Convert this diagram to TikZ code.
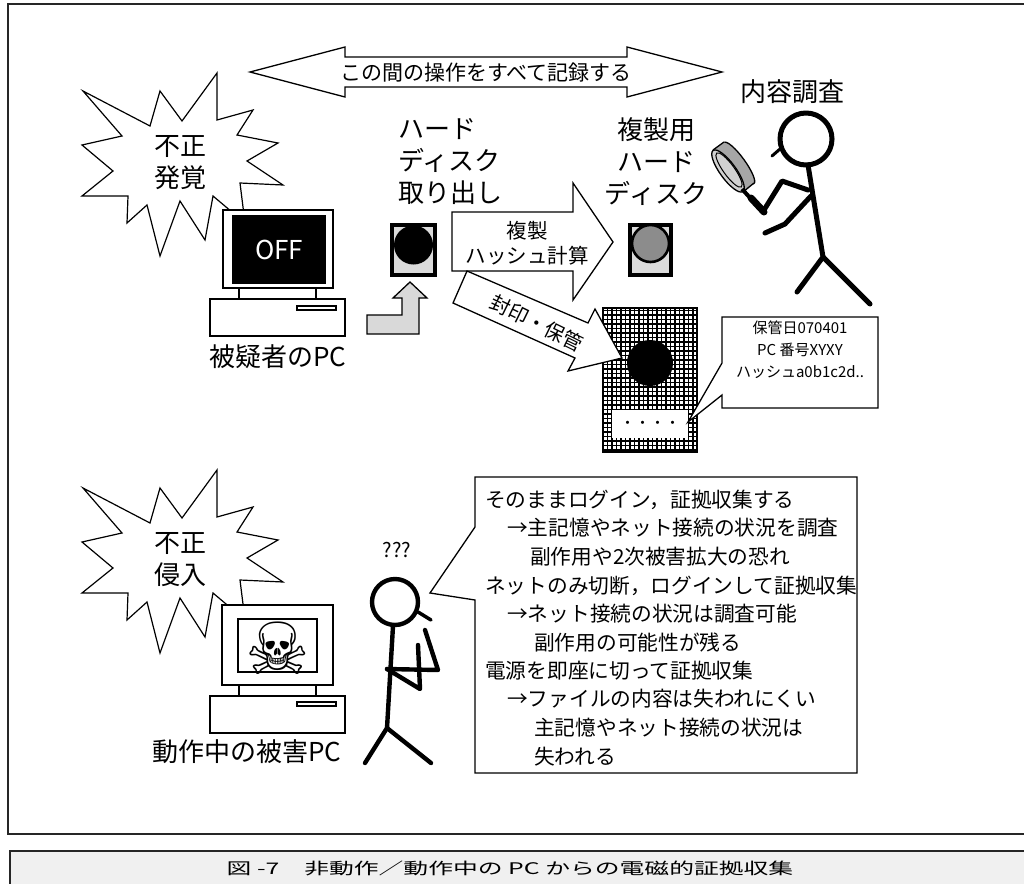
\documentclass[tikz,border=0pt]{standalone}
\usepackage{fontspec}
\setmainfont{Noto Sans CJK JP}
\newfontfamily\symbolfont{DejaVu Sans}
\newcommand\setfs[2]{\fontsize{#1}{#2}\selectfont}
\begin{document}
\begin{tikzpicture}[x=1pt,y=-1pt,
  outl/.style={draw=black,line width=1.3,fill=white,line join=miter},
  frameline/.style={draw=black!85,line width=1.5},
  pcline/.style={draw=black,line width=1.5},
  stick/.style={line width=5,line cap=round,line join=round},
  stickthin/.style={line width=4.4,line cap=round,line join=round},
  lbl/.style={inner sep=0,font=\setfs{26}{32}},
  small/.style={inner sep=0,font=\setfs{15}{22}},
  talk/.style={inner sep=0,anchor=west,font=\setfs{20.7}{28}},
  burst/.style={draw=black,line width=1.2,fill=white,line join=miter}
]
\useasboundingbox (0,0) rectangle (1024,883);

% outer frame and caption bar
\draw[frameline] (8,4) rectangle (1032,834);
\draw[frameline,fill=black!6] (10,851) rectangle (1032,890);
\node[font=\setfs{16}{16},inner sep=0] (cap) at (510,868)
  {\scalebox{1.55}[1]{図 -7　非動作／動作中の PC からの電磁的証拠収集}};

% starbursts
\foreach \cy/\nm in {163/b1,560/b2}{
  \draw[burst,shift={(180,\cy)}] (-97,-72) -- (-30,-37) -- (-20,-72) -- (2,-42)
    -- (37,-90) -- (37,-43) -- (73,-53) -- (57,-28) -- (98,-20) -- (67,-2)
    -- (103,22) -- (60,20) -- (65,60) -- (33,33) -- (25,77) -- (0,38)
    -- (-20,93) -- (-33,42) -- (-53,60) -- (-52,33) -- (-98,33) -- (-67,8)
    -- (-98,-18) -- (-58,-27) -- cycle;
}
\node[lbl,align=center] (fusei1) at (180,163) {不正\\発覚};
\node[lbl,align=center] (fusei2) at (180,560) {不正\\侵入};

% suspect PC (switched off)
\draw[pcline,fill=white] (223,210) rectangle (333,288);
\fill[black] (232,215) rectangle (326,284);
\draw[pcline] (239,288) -- (239,299) (316,288) -- (316,299);
\draw[pcline,fill=white] (210,299) rectangle (345,336);
\draw[line width=1.2] (297,306) rectangle (336,310);
\node[lbl,text=white] (off) at (279,250) {OFF};
\node[lbl] (pc1) at (278,357) {被疑者のPC};

% victim PC (running)
\draw[pcline,fill=white] (222,605) rectangle (333,685);
\draw[pcline] (238,619) rectangle (317,672);
\draw[pcline] (239,685) -- (239,696) (316,685) -- (316,696);
\draw[pcline,fill=white] (210,696) rectangle (345,733);
\draw[line width=1.2] (297,702) rectangle (336,706);
\node[inner sep=0,font=\symbolfont\setfs{72}{72}] (skull) at (278,648) {☠};
\node[lbl] (pc2) at (247,752) {動作中の被害PC};

% recording span arrow
\draw[outl] (250,72) -- (345,47) -- (345,57) -- (627,57) -- (627,47) -- (722,72)
  -- (627,97) -- (627,87) -- (345,87) -- (345,97) -- cycle;
\node[inner sep=0,font=\setfs{21}{21}] (rec) at (486,73) {この間の操作をすべて記録する};

% removed hard disk
\node[lbl,align=left,anchor=west] (hdd1l) at (398,162) {ハード\\ディスク\\取り出し};
\fill[black] (390,223) rectangle (437,277);
\fill[black!14] (394,227) rectangle (433,273);
\fill[black] (413.5,245) circle (19.5);
\draw[line width=1.3,fill=black!15,line join=miter] (367,334) -- (419,334) -- (419,298)
  -- (427,298) -- (410,282) -- (393,298) -- (402,298) -- (402,315) -- (367,315) -- cycle;

% copy arrow
\draw[outl] (452,212) -- (573,212) -- (573,183) -- (613,242) -- (573,300)
  -- (573,271) -- (452,271) -- cycle;
\node[inner sep=0,font=\setfs{20.5}{25},align=center] (copy) at (527,243) {複製\\ハッシュ計算};

% copy hard disk
\node[lbl,align=center] (hdd2l) at (656,162) {複製用\\ハード\\ディスク};
\fill[black] (628,223) rectangle (673,277);
\fill[black!14] (632,227) rectangle (669,273);
\draw[line width=2.6,fill=black!45] (650.5,243.5) circle (18.5);

% sealed disk in evidence bag
\begin{scope}
  \clip (603,308) rectangle (697,452);
  \fill[white] (603,308) rectangle (697,452);
  \draw[line width=1.1,step=4.5pt] (598,303) grid (702,457);
\end{scope}
\draw[line width=1.3] (603,308) rectangle (697,452);
\fill[black] (650,363) circle (23);
\fill[white] (612,410) rectangle (688,438);
\node[inner sep=0,font=\setfs{15}{15}] (dots) at (650,425) {・・・・};

% seal arrow
\draw[outl] (467,271) -- (588,323) -- (595,309) -- (622,358) -- (568,371)
  -- (575,358) -- (453,303) -- cycle;
\node[inner sep=0,font=\setfs{20}{20},rotate=-26] (seal) at (537,323) {封印・保管};

% label callout
\draw[outl] (722,317) -- (878,317) -- (878,408) -- (722,408) -- (722,395)
  -- (688,422) -- (722,363) -- cycle;
\node[small] (tag1) at (800,328) {保管日070401};
\node[small] (tag2) at (800,350) {PC 番号XYXY};
\node[small] (tag3) at (800,372) {ハッシュa0b1c2d..};

% examiner with magnifier
\node[lbl] (exam) at (792,92) {内容調査};
\draw[stick] (806,139) circle (26);
\draw[line width=3,line cap=round] (780,149) -- (772,156);
\draw[stick] (808,165) -- (823,257) -- (797,292);
\draw[stick] (823,257) -- (870,304);
\draw[stick] (808,190) -- (782,181) -- (764,210);
\draw[stick] (811,196) -- (785,224) -- (765,233);
\begin{scope}
  \filldraw[line width=1.3,fill=black!35,shift={(739,163)},rotate=-54] (0,0) ellipse [x radius=25.4, y radius=6];
  \fill[black!35] (713,150) -- (724,142) -- (754,183) -- (743,192) -- cycle;
  \draw[line width=1.3] (713,150) -- (724,142) (743,192) -- (754,183);
  \filldraw[line width=1.3,fill=black!18,shift={(728,171)},rotate=-54] (0,0) ellipse [x radius=25.4, y radius=8];
  \draw[line width=1,shift={(729,170)},rotate=-54] (0,0) ellipse [x radius=21, y radius=5.5];
  \draw[line width=4] (742,189) -- (752,200);
  \draw[line width=7,line cap=round] (751,198) -- (764,212);
\end{scope}

% victim-side investigator
\node[inner sep=0,font=\setfs{20}{20}] (qq) at (397,550) {???};
\draw[stickthin] (395,602) circle (23);
\draw[line width=3.5,line cap=round] (418,612) -- (431,620);
\draw[stickthin] (393,626) -- (387,728) -- (365,763);
\draw[stickthin] (387,728) -- (431,763);
\draw[stickthin] (387,669) -- (438,670) -- (425,630);
\draw[stickthin] (387,669) -- (420,689) -- (418,645);

% speech box
\draw[outl] (475,477) -- (857,477) -- (857,773) -- (475,773) -- (475,600)
  -- (430,593) -- (475,527) -- cycle;
\node[talk] (l1) at (485,500) {そのままログイン，証拠収集する};
\node[talk] (l2) at (507,528) {→主記憶やネット接続の状況を調査};
\node[talk] (l3) at (530,557) {副作用や2次被害拡大の恐れ};
\node[talk] (l4) at (485,586) {ネットのみ切断，ログインして証拠収集};
\node[talk] (l5) at (507,614) {→ネット接続の状況は調査可能};
\node[talk] (l6) at (534,643) {副作用の可能性が残る};
\node[talk] (l7) at (485,671) {電源を即座に切って証拠収集};
\node[talk] (l8) at (507,699) {→ファイルの内容は失われにくい};
\node[talk] (l9) at (534,728) {主記憶やネット接続の状況は};
\node[talk] (l10) at (534,757) {失われる};
\end{tikzpicture}
\end{document}
